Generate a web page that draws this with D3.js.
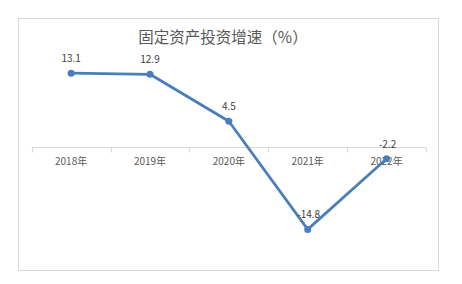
<!DOCTYPE html>
<html>
<head>
<meta charset="utf-8">
<script src="https://cdn.jsdelivr.net/npm/d3@7"></script>
<style>
  html, body { margin: 0; padding: 0; background: #fff; }
  svg { display: block; }
</style>
</head>
<body>
<svg id="chart" width="462" height="284"></svg>
<script>
const titleText = "固定资产投资增速（%）";
const categories = ["2018年", "2019年", "2020年", "2021年", "2022年"];
const values = [13.1, 12.9, 4.5, -14.8, -2.2];
const yDomain = [-20, 15];

const svg = d3.select("#chart");
const font = "'Noto Sans CJK SC', 'Noto Sans', sans-serif";

// chart border
svg.append("rect")
  .attr("x", 18.5).attr("y", 18.5)
  .attr("width", 420).attr("height", 252)
  .attr("fill", "#fff").attr("stroke", "#d9d9d9").attr("stroke-width", 1);

// title
svg.append("text")
  .attr("x", 223).attr("y", 36)
  .attr("text-anchor", "middle")
  .attr("dominant-baseline", "central")
  .attr("font-family", font)
  .attr("font-size", 15.5)
  .attr("fill", "#595959")
  .text(titleText);

const x = d3.scaleBand().domain(categories).range([31.7, 426]);
const y = d3.scaleLinear().domain(yDomain).range([258.5, 62.5]);

// category axis at y=0
const axisG = svg.append("g")
  .attr("transform", `translate(0,${Math.round(y(0)) + 0.5})`);
axisG.append("line")
  .attr("x1", x.range()[0]).attr("x2", x.range()[1])
  .attr("stroke", "#d9d9d9").attr("stroke-width", 1);
const tickPos = categories.map(c => x(c)).concat([x.range()[1]]);
axisG.selectAll("line.tick").data(tickPos).enter().append("line")
  .attr("class", "tick")
  .attr("x1", d => Math.round(d) + 0.5).attr("x2", d => Math.round(d) + 0.5)
  .attr("y1", 0).attr("y2", 5)
  .attr("stroke", "#d9d9d9").attr("stroke-width", 1);
axisG.selectAll("text").data(categories).enter().append("text")
  .attr("x", d => x(d) + x.bandwidth() / 2)
  .attr("y", 13)
  .attr("text-anchor", "middle")
  .attr("dominant-baseline", "central")
  .attr("font-family", font)
  .attr("font-size", 10)
  .attr("fill", "#595959")
  .text(d => d);

const cx = (d, i) => x(categories[i]) + x.bandwidth() / 2;

// line
const line = d3.line()
  .x((d, i) => cx(d, i))
  .y(d => y(d));
svg.append("path")
  .datum(values)
  .attr("d", line)
  .attr("fill", "none")
  .attr("stroke", "#4a7ebb")
  .attr("stroke-width", 2.75)
  .attr("stroke-linejoin", "round")
  .attr("stroke-linecap", "round");

// markers
svg.selectAll("circle.pt").data(values).enter().append("circle")
  .attr("class", "pt")
  .attr("cx", (d, i) => cx(d, i))
  .attr("cy", d => y(d))
  .attr("r", 3.5)
  .attr("fill", "#4a7ebb");

// data labels
svg.selectAll("text.lbl").data(values).enter().append("text")
  .attr("class", "lbl")
  .attr("x", (d, i) => cx(d, i) + (d < 0 ? 1 : 0))
  .attr("y", d => y(d) - 15.5)
  .attr("text-anchor", "middle")
  .attr("dominant-baseline", "central")
  .attr("font-family", font)
  .attr("font-size", 10)
  .attr("fill", "#404040")
  .text(d => d.toFixed(1));
</script>
</body>
</html>
